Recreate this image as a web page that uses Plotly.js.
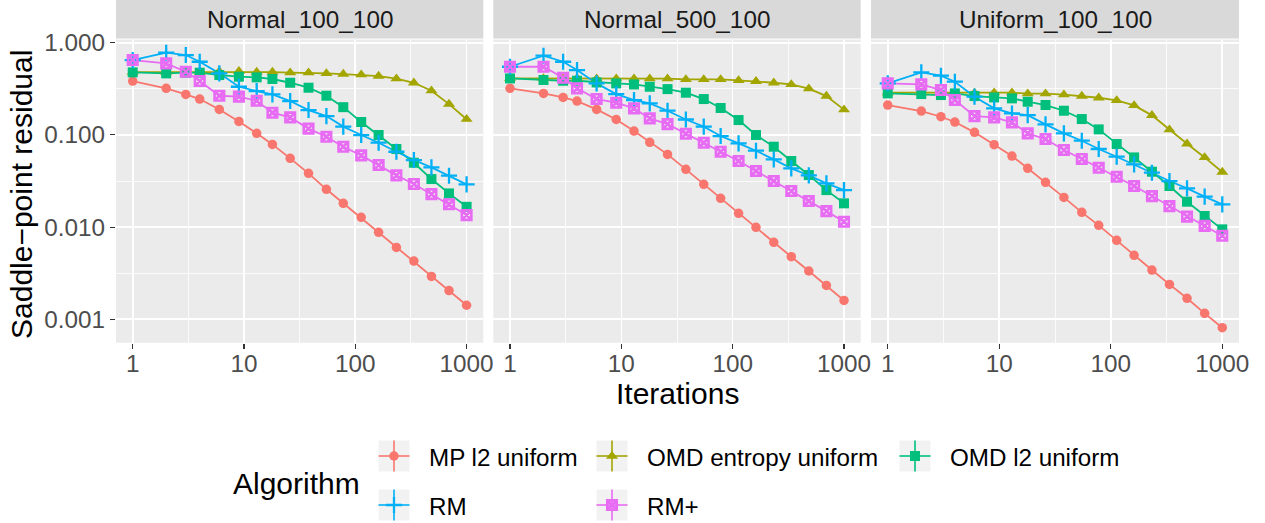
<!DOCTYPE html>
<html><head><meta charset="utf-8">
<script src="https://cdn.plot.ly/plotly-3.0.1.min.js"></script>
<style>html,body{margin:0;padding:0;background:#fff}</style>
</head><body><div id="chart" style="width:1265px;height:523px"></div>
<script>
// ---------------- data ----------------
const iterations = [1,2,3,4,6,9,13,18,26,38,55,78,113,162,234,336,483,695,1000];
const panelNames = ['Normal_100_100','Normal_500_100','Uniform_100_100'];
const algorithms = ['MP l2 uniform','OMD entropy uniform','OMD l2 uniform','RM','RM+'];
const algoColors = ['#F8766D','#A3A500','#00BF7D','#00B0F6','#E76BF3'];

const xTickVals = [1,10,100,1000];
const xTickText = ['1','10','100','1000'];
const yTickVals = [0.001,0.01,0.1,1];
const yTickText = ['0.001','0.010','0.100','1.000'];

// Normal_100_100
const n100_mp      = [0.384,0.320,0.275,0.245,0.189,0.140,0.104,0.0789,0.0557,0.0383,0.0257,0.0181,0.01276,0.00877,0.00602,0.00428,0.00292,0.00205,0.00142];
const n100_entropy = [0.480,0.480,0.482,0.484,0.489,0.489,0.481,0.481,0.473,0.473,0.465,0.457,0.450,0.435,0.407,0.368,0.302,0.216,0.148];
const n100_omdl2   = [0.477,0.465,0.473,0.473,0.446,0.428,0.421,0.404,0.368,0.325,0.266,0.200,0.138,0.0997,0.0703,0.0499,0.0332,0.0232,0.0166];
const n100_rm      = [0.649,0.779,0.735,0.622,0.465,0.333,0.299,0.275,0.233,0.186,0.160,0.123,0.0997,0.0823,0.0657,0.0534,0.0444,0.0361,0.0291];
const n100_rmplus  = [0.649,0.597,0.485,0.384,0.266,0.260,0.235,0.174,0.155,0.117,0.0956,0.0745,0.060,0.0471,0.0364,0.0293,0.0228,0.0177,0.0135];

// Normal_500_100
const n500_mp      = [0.320,0.282,0.255,0.233,0.189,0.147,0.110,0.083,0.0615,0.0423,0.0291,0.0205,0.0141,0.00994,0.00683,0.00477,0.00334,0.00233,0.0016];
const n500_entropy = [0.410,0.410,0.410,0.410,0.407,0.407,0.407,0.407,0.407,0.400,0.400,0.400,0.390,0.381,0.368,0.353,0.317,0.264,0.188];
const n500_omdl2   = [0.410,0.394,0.387,0.387,0.371,0.362,0.353,0.333,0.314,0.287,0.245,0.196,0.145,0.0997,0.0745,0.0521,0.0367,0.0252,0.0181];
const n500_rm      = [0.549,0.723,0.622,0.505,0.362,0.277,0.239,0.220,0.183,0.147,0.123,0.0972,0.081,0.0674,0.0543,0.0434,0.0364,0.0298,0.0252];
const n500_rmplus  = [0.549,0.549,0.417,0.320,0.245,0.2235,0.194,0.151,0.131,0.103,0.0823,0.0657,0.0521,0.0406,0.0316,0.0246,0.0192,0.0149,0.01145];

// Uniform_100_100
const u100_mp      = [0.211,0.1815,0.1575,0.138,0.1066,0.0783,0.059,0.0434,0.0306,0.021,0.01445,0.01044,0.00718,0.00494,0.00342,0.00239,0.00169,0.00116,0.00081];
const u100_entropy = [0.287,0.287,0.287,0.287,0.2845,0.287,0.287,0.280,0.280,0.273,0.264,0.253,0.2368,0.209,0.163,0.1138,0.0802,0.057,0.0396];
const u100_omdl2   = [0.282,0.2775,0.2706,0.282,0.264,0.255,0.249,0.229,0.211,0.183,0.1486,0.1148,0.0796,0.057,0.0399,0.0279,0.01886,0.0132,0.00945];
const u100_rm      = [0.362,0.477,0.439,0.378,0.260,0.194,0.171,0.164,0.130,0.104,0.0865,0.0703,0.058,0.0479,0.0389,0.0316,0.0263,0.0214,0.01765];
const u100_rmplus  = [0.362,0.353,0.307,0.239,0.160,0.155,0.1367,0.104,0.0902,0.0685,0.0547,0.0441,0.0352,0.0279,0.0217,0.0169,0.0130,0.0103,0.00807];

const panelData = [
  [n100_mp, n100_entropy, n100_omdl2, n100_rm, n100_rmplus],
  [n500_mp, n500_entropy, n500_omdl2, n500_rm, n500_rmplus],
  [u100_mp, u100_entropy, u100_omdl2, u100_rm, u100_rmplus]
];

// ---------------- styling / layout ----------------
const W = 1265, H = 523;
const fx = p => p / W;
const fy = p => 1 - p / H;
const FONT = 'Liberation Sans, Arial, Helvetica, sans-serif';
const panelX = [[116, 483.3], [493.3, 860.7], [871, 1239]];
const panelTop = 39.5, panelBottom = 342.7;
const stripTop = 0, stripBottom = 38.5;
const TICK_SIZE = 24.3, TITLE_SIZE = 30, LEGEND_SIZE = 24.2;

const markerStyles = [
  {symbol: 'circle', size: 9.5},
  {symbol: 'triangle-up', size: 10.5},
  {symbol: 'square', size: 10},
  {symbol: 'cross-thin-open', size: 11.5, line: {width: 2.3}},
  {symbol: 'square-x-open', size: 9.5, line: {width: 2.6}}
];
function markerFor(j) {
  const m = Object.assign({}, markerStyles[j]);
  m.color = algoColors[j];
  m.line = Object.assign({color: algoColors[j], width: 0}, markerStyles[j].line || {});
  return m;
}

const traces = [];
panelData.forEach((series, i) => {
  const s = i === 0 ? '' : String(i + 1);
  series.forEach((vals, j) => {
    traces.push({
      x: iterations, y: vals, type: 'scatter', mode: 'lines',
      line: {color: algoColors[j], width: 1.8},
      xaxis: 'x' + s, yaxis: 'y' + s, showlegend: false, hoverinfo: 'skip'
    });
  });
  series.forEach((vals, j) => {
    traces.push({
      x: iterations, y: vals, type: 'scatter', mode: 'markers',
      marker: markerFor(j), name: algorithms[j],
      xaxis: 'x' + s, yaxis: 'y' + s, showlegend: false, cliponaxis: false
    });
  });
});

// legend key markers (custom legend, overlay axis in pixel coordinates)
const legendKeyX = [394, 612, 915, 394, 612];
const legendKeyY = [456, 456, 456, 505, 505];
const legendTextX = [427, 645, 948, 427, 645];
algorithms.forEach((a, j) => {
  traces.push({
    x: [legendKeyX[j]], y: [legendKeyY[j]], type: 'scatter', mode: 'markers',
    marker: markerFor(j), xaxis: 'x4', yaxis: 'y4', showlegend: false,
    hoverinfo: 'skip', cliponaxis: false
  });
});

const layout = {
  width: W, height: H,
  margin: {l: 0, r: 0, t: 0, b: 0, pad: 0},
  paper_bgcolor: '#FFFFFF',
  plot_bgcolor: 'rgba(0,0,0,0)',
  font: {family: FONT, color: '#1A1A1A'},
  showlegend: false,
  shapes: [], annotations: []
};

panelX.forEach((px, i) => {
  const s = i === 0 ? '' : String(i + 1);
  layout['xaxis' + s] = {
    domain: [fx(px[0]), fx(px[1])], anchor: 'y' + s, type: 'log',
    range: [-0.15, 3.15], tickmode: 'array', tickvals: xTickVals, ticktext: xTickText,
    ticks: 'outside', ticklen: 5, tickwidth: 1.1, tickcolor: '#333333',
    ticklabelstandoff: -6,
    tickfont: {family: FONT, size: TICK_SIZE, color: '#4D4D4D'},
    showgrid: true, gridcolor: '#FFFFFF', gridwidth: 1.6,
    minor: {tickmode: 'array', tickvals: [3.1623, 31.623, 316.23], showgrid: true,
            gridcolor: '#FFFFFF', gridwidth: 0.8, ticks: ''},
    zeroline: false, showline: false, fixedrange: true
  };
  layout['yaxis' + s] = {
    domain: [fy(panelBottom), fy(panelTop)], anchor: 'x' + s, type: 'log',
    range: [-3.254, 0.035], tickmode: 'array', tickvals: yTickVals, ticktext: yTickText,
    ticks: i === 0 ? 'outside' : '', ticklen: 5, tickwidth: 1.1, tickcolor: '#333333',
    showticklabels: i === 0,
    tickfont: {family: FONT, size: TICK_SIZE, color: '#4D4D4D'},
    showgrid: true, gridcolor: '#FFFFFF', gridwidth: 1.6,
    minor: {tickmode: 'array', tickvals: [0.0031623, 0.031623, 0.31623], showgrid: true,
            gridcolor: '#FFFFFF', gridwidth: 0.8, ticks: ''},
    zeroline: false, showline: false, fixedrange: true
  };
  // panel background
  layout.shapes.push({type: 'rect', xref: 'paper', yref: 'paper', layer: 'below',
    x0: fx(px[0]), x1: fx(px[1]), y0: fy(panelBottom), y1: fy(panelTop),
    fillcolor: '#EBEBEB', line: {width: 0}});
  // strip
  layout.shapes.push({type: 'rect', xref: 'paper', yref: 'paper', layer: 'below',
    x0: fx(px[0]), x1: fx(px[1]), y0: fy(stripBottom), y1: fy(stripTop),
    fillcolor: '#D9D9D9', line: {width: 0}});
  layout.annotations.push({xref: 'paper', yref: 'paper', x: fx((px[0] + px[1]) / 2), y: fy(19),
    xanchor: 'center', yanchor: 'middle', showarrow: false, text: panelNames[i],
    font: {family: FONT, size: TICK_SIZE, color: '#1A1A1A'}});
});

layout.xaxis4 = {domain: [0, 1], range: [0, W], anchor: 'y4', visible: false, fixedrange: true};
layout.yaxis4 = {domain: [0, 1], range: [H, 0], anchor: 'x4', visible: false, fixedrange: true};

// axis titles
layout.annotations.push({xref: 'paper', yref: 'paper', x: fx(677.5), y: fy(393),
  xanchor: 'center', yanchor: 'middle', showarrow: false, text: 'Iterations',
  font: {family: FONT, size: TITLE_SIZE, color: '#000000'}});
layout.annotations.push({xref: 'paper', yref: 'paper', x: fx(21), y: fy(195),
  xanchor: 'center', yanchor: 'middle', showarrow: false, textangle: -90,
  text: 'Saddle\u2212point residual',
  font: {family: FONT, size: TITLE_SIZE, color: '#000000'}});

// custom legend
layout.annotations.push({xref: 'paper', yref: 'paper', x: fx(231), y: fy(483),
  xanchor: 'left', yanchor: 'middle', showarrow: false, text: 'Algorithm',
  font: {family: FONT, size: TITLE_SIZE, color: '#000000'}});
const keyHalf = 15.5;
algorithms.forEach((a, j) => {
  const cx = legendKeyX[j], cy = legendKeyY[j];
  layout.shapes.push({type: 'rect', xref: 'paper', yref: 'paper', layer: 'below',
    x0: fx(cx - keyHalf), x1: fx(cx + keyHalf), y0: fy(cy + keyHalf), y1: fy(cy - keyHalf),
    fillcolor: '#F2F2F2', line: {width: 0}});
  layout.shapes.push({type: 'line', xref: 'paper', yref: 'paper', layer: 'below',
    x0: fx(cx - keyHalf), x1: fx(cx + keyHalf), y0: fy(cy), y1: fy(cy),
    line: {color: algoColors[j], width: 1.6}});
  layout.shapes.push({type: 'line', xref: 'paper', yref: 'paper', layer: 'below',
    x0: fx(cx), x1: fx(cx), y0: fy(cy + keyHalf), y1: fy(cy - keyHalf),
    line: {color: algoColors[j], width: 1.6}});
  layout.annotations.push({xref: 'paper', yref: 'paper', x: fx(legendTextX[j]), y: fy(cy + 1),
    xanchor: 'left', yanchor: 'middle', showarrow: false, text: a,
    font: {family: FONT, size: LEGEND_SIZE, color: '#000000'}});
});

Plotly.newPlot('chart', traces, layout, {displayModeBar: false, staticPlot: true});
</script>
</body></html>
